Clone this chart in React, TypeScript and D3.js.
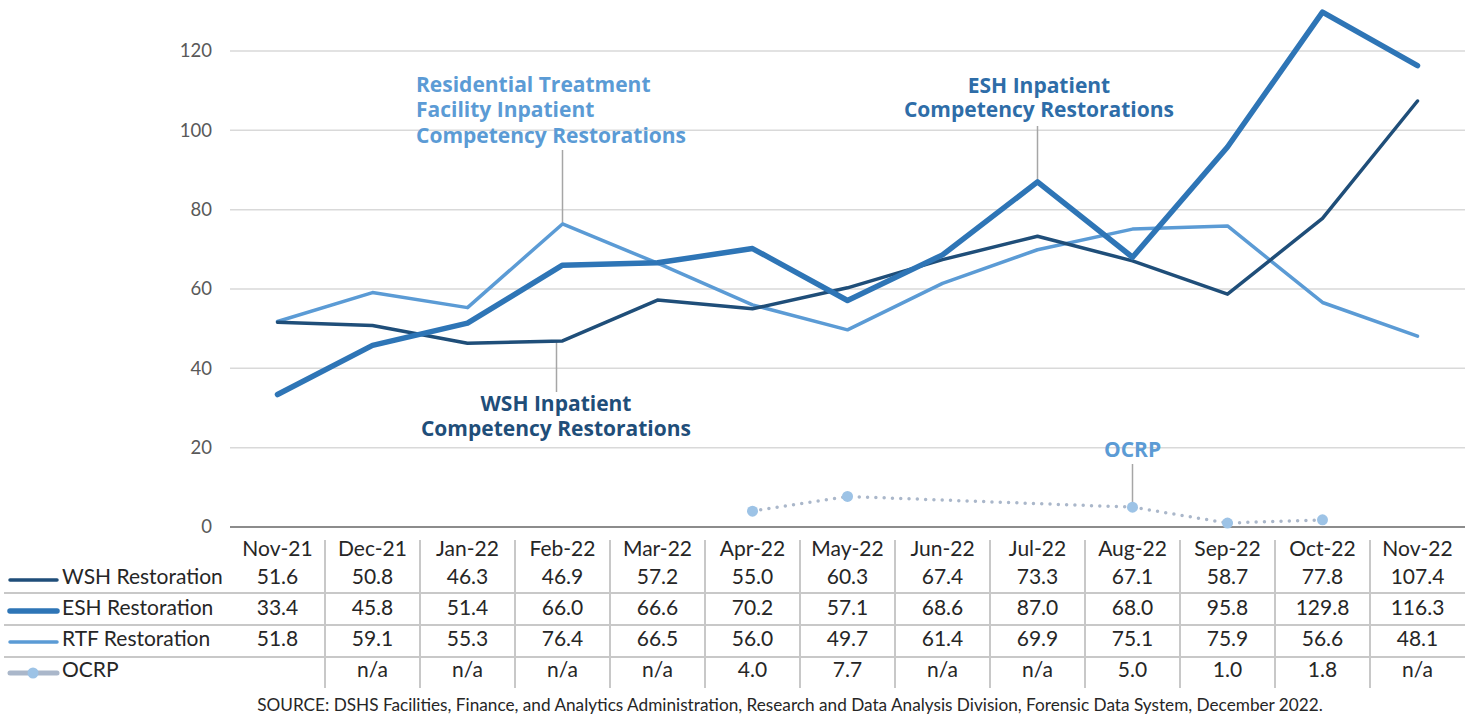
import React from 'react';
import * as d3 from 'd3';

const months = ['Nov-21', 'Dec-21', 'Jan-22', 'Feb-22', 'Mar-22', 'Apr-22', 'May-22', 'Jun-22', 'Jul-22', 'Aug-22', 'Sep-22', 'Oct-22', 'Nov-22'];
const wsh = [51.6, 50.8, 46.3, 46.9, 57.2, 55.0, 60.3, 67.4, 73.3, 67.1, 58.7, 77.8, 107.4];
const esh = [33.4, 45.8, 51.4, 66.0, 66.6, 70.2, 57.1, 68.6, 87.0, 68.0, 95.8, 129.8, 116.3];
const rtf = [51.8, 59.1, 55.3, 76.4, 66.5, 56.0, 49.7, 61.4, 69.9, 75.1, 75.9, 56.6, 48.1];
const ocrp: (number | null)[] = [null, null, null, null, null, 4.0, 7.7, null, null, 5.0, 1.0, 1.8, null];
const ocrpCells = ['', 'n/a', 'n/a', 'n/a', 'n/a', '4.0', '7.7', 'n/a', 'n/a', '5.0', '1.0', '1.8', 'n/a'];
const yTicks = [0, 20, 40, 60, 80, 100, 120];

const font = 'Lato, "Open Sans", sans-serif';
const boldFont = '"Open Sans", Lato, sans-serif';
const WSH_C = '#1F4E79';
const ESH_C = '#2E75B6';
const RTF_C = '#5B9BD5';
const OCRP_LINE = '#AAB7CA';
const OCRP_DOT = '#9DC3E6';
const GRID = '#D9D9D9';
const TABLE_LINE = '#C8C8C8';
const LEADER = '#A6A6A6';

const App = () => {
  const svgWidth = 1475;
  const svgHeight = 717;

  const x = d3.scaleBand().domain(months).range([230, 1465]);
  const bw = x.bandwidth();
  const cx = (m: string) => (x(m) as number) + bw / 2;
  const y = d3.scaleLinear().domain([0, 120]).range([527, 51]);

  const line = d3.line<number>().x((d, i) => cx(months[i])).y(d => y(d));

  const ocrpPts = months
    .map((m, i) => ({ m, v: ocrp[i] }))
    .filter(d => d.v != null) as { m: string, v: number }[];
  const ocrpLine = d3.line<{ m: string, v: number }>().x(d => cx(d.m)).y(d => y(d.v));

  const rows = [
    { label: 'WSH Restoration', cells: wsh.map(v => v.toFixed(1)), cy: 577 },
    { label: 'ESH Restoration', cells: esh.map(v => v.toFixed(1)), cy: 608 },
    { label: 'RTF Restoration', cells: rtf.map(v => v.toFixed(1)), cy: 639 },
    { label: 'OCRP', cells: ocrpCells, cy: 670 },
  ];
  const rowLines = [593, 625, 657];
  const tableFs = 21;

  return (
    <svg width={svgWidth} height={svgHeight} style={{ position: 'absolute', left: 0, top: 0 }} fontFamily={font}>
      <rect width={svgWidth} height={svgHeight} fill="#fff" />

      {/* grid + y axis */}
      {yTicks.map(t => (
        <g key={t}>
          <line x1={230} x2={1465} y1={y(t)} y2={y(t)} stroke={t === 0 ? '#8C8C8C' : GRID} strokeWidth={t === 0 ? 2 : 1.5} />
          <text x={212} y={y(t)} dy="0.35em" textAnchor="end" fontSize={18.5} fill="#595959">{t}</text>
        </g>
      ))}

      {/* leader lines */}
      <line x1={cx('Feb-22')} x2={cx('Feb-22')} y1={150} y2={y(76.4)} stroke={LEADER} strokeWidth={1.5} />
      <line x1={cx('Feb-22') - 6} x2={cx('Feb-22') - 6} y1={y(46.9)} y2={392} stroke={LEADER} strokeWidth={1.5} />
      <line x1={cx('Jul-22')} x2={cx('Jul-22')} y1={126} y2={y(87.0)} stroke={LEADER} strokeWidth={1.5} />
      <line x1={cx('Aug-22')} x2={cx('Aug-22')} y1={464} y2={y(5.0)} stroke={LEADER} strokeWidth={1.5} />

      {/* series */}
      <path d={ocrpLine(ocrpPts) || ''} fill="none" stroke={OCRP_LINE} strokeWidth={3.5} strokeDasharray="0 8.3" strokeLinecap="round" />
      {ocrpPts.map(d => (
        <circle key={d.m} cx={cx(d.m)} cy={y(d.v)} r={5.5} fill={OCRP_DOT} />
      ))}
      <path d={line(rtf) || ''} fill="none" stroke={RTF_C} strokeWidth={3.5} strokeLinejoin="round" strokeLinecap="round" />
      <path d={line(wsh) || ''} fill="none" stroke={WSH_C} strokeWidth={3.5} strokeLinejoin="round" strokeLinecap="round" />
      <path d={line(esh) || ''} fill="none" stroke={ESH_C} strokeWidth={5.5} strokeLinejoin="round" strokeLinecap="round" />

      {/* annotations */}
      <g fontWeight="bold" fontSize={21} fontFamily={boldFont}>
        <text x={416} fill={RTF_C}>
          <tspan x={416} y={92}>Residential Treatment</tspan>
          <tspan x={416} y={117}>Facility Inpatient</tspan>
          <tspan x={416} y={143}>Competency Restorations</tspan>
        </text>
        <text textAnchor="middle" fill="#2E6DA8">
          <tspan x={1039} y={93}>ESH Inpatient</tspan>
          <tspan x={1039} y={117}>Competency Restorations</tspan>
        </text>
        <text textAnchor="middle" fill={WSH_C}>
          <tspan x={556} y={411}>WSH Inpatient</tspan>
          <tspan x={556} y={436}>Competency Restorations</tspan>
        </text>
        <text x={cx('Aug-22')} y={457} textAnchor="middle" fill={RTF_C}>OCRP</text>
      </g>

      {/* data table */}
      {rowLines.map(ry => (
        <line key={ry} x1={4} x2={1465} y1={ry} y2={ry} stroke={TABLE_LINE} strokeWidth={2} />
      ))}
      {months.slice(1).map(m => (
        <line key={m} x1={x(m) as number} x2={x(m) as number} y1={540} y2={688} stroke={TABLE_LINE} strokeWidth={2} />
      ))}
      {months.map(m => (
        <text key={m} x={cx(m)} y={549} dy="0.35em" textAnchor="middle" fontSize={tableFs} fill="#262626">{m}</text>
      ))}
      {rows.map(r => (
        <g key={r.label}>
          <text x={62} y={r.cy} dy="0.35em" fontSize={tableFs} fill="#262626">{r.label}</text>
          {r.cells.map((c, i) => (
            <text key={i} x={cx(months[i])} y={r.cy} dy="0.35em" textAnchor="middle" fontSize={tableFs} fill="#262626">{c}</text>
          ))}
        </g>
      ))}

      {/* legend keys */}
      <line x1={10} x2={57} y1={580} y2={580} stroke={WSH_C} strokeWidth={3.5} strokeLinecap="round" />
      <line x1={10} x2={57} y1={611} y2={611} stroke={ESH_C} strokeWidth={5.5} strokeLinecap="round" />
      <line x1={10} x2={57} y1={642} y2={642} stroke={RTF_C} strokeWidth={3.5} strokeLinecap="round" />
      <line x1={10} x2={57} y1={673} y2={673} stroke={OCRP_LINE} strokeWidth={5} strokeLinecap="round" />
      <circle cx={33} cy={673} r={5.5} fill={OCRP_DOT} />

      <text x={790} y={705} dy="0.35em" textAnchor="middle" fontSize={17.2} fill="#262626">
        SOURCE: DSHS Facilities, Finance, and Analytics Administration, Research and Data Analysis Division, Forensic Data System, December 2022.
      </text>
    </svg>
  );
};

export default App;
